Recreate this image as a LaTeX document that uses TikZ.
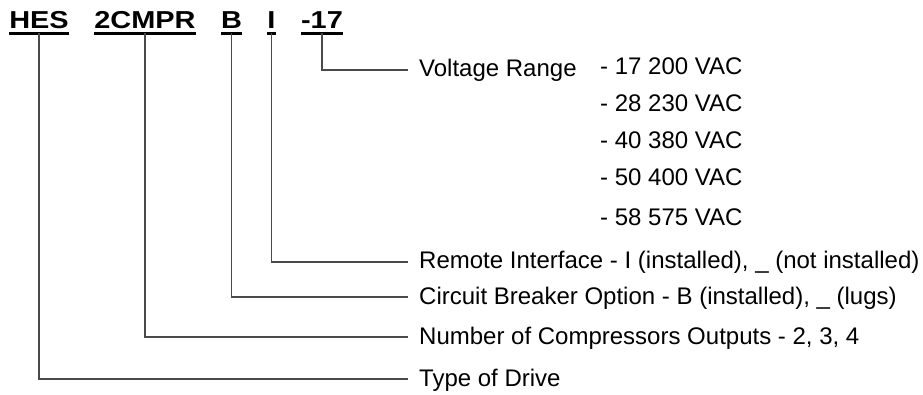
\documentclass[tikz,border=0pt]{standalone}
\usepackage{fontspec}
\setmainfont{Liberation Sans}
\newfontfamily\codefont[FakeStretch=1.18]{Liberation Sans Bold}
\usetikzlibrary{calc}
\definecolor{LeadGray}{HTML}{4A4A4A}

\begin{document}
\begin{tikzpicture}[x=1pt, y=-1pt,
    code/.style={font=\codefont\fontsize{24.5}{28}\selectfont, anchor=base, inner xsep=0pt, inner ysep=4pt, text depth=0pt},
    item/.style={font=\fontsize{24}{28}\selectfont, anchor=west, inner xsep=11pt, inner ysep=0pt, text height=14pt, text depth=0pt},
    volt/.style={font=\fontsize{24}{28}\selectfont, anchor=base west, inner sep=0pt},
    lead/.style={draw=LeadGray, line width=1.7pt},
    uline/.style={line width=2.8pt}]
    \useasboundingbox (0,0) rectangle (923,395);

    % part number
    \node[code] (hes) at (39,29) {HES};
    \node[code] (cmpr) at (145,29) {2CMPR};
    \node[code] (brk) at (231.5,29) {B};
    \node[code] (rmt) at (271.5,29) {I};
    \node[code] (vlt) at (322,29) {-17};
    \foreach \n in {hes,cmpr,brk,rmt,vlt}
        \draw[uline] (\n.south west) -- (\n.south east);

    % what each part means
    \node[item] (range) at (408,70) {Voltage Range};
    \node[item] (remote) at (408,262) {Remote Interface - I (installed), \_ (not installed)};
    \node[item] (breaker) at (408,297) {Circuit Breaker Option - B (installed), \_ (lugs)};
    \node[item] (comp) at (408,337) {Number of Compressors Outputs - 2, 3, 4};
    \node[item] (drive) at (408,379) {Type of Drive};

    % voltage codes
    \node[volt] (v17) at (600,75) {- 17 200 VAC};
    \node[volt] (v28) at (600,112) {- 28 230 VAC};
    \node[volt] (v40) at (600,149) {- 40 380 VAC};
    \node[volt] (v50) at (600,186) {- 50 400 VAC};
    \node[volt] (v58) at (600,226) {- 58 575 VAC};

    \draw[lead] (vlt.south) |- (range.west);
    \draw[lead] (rmt.south) |- (remote.west);
    \draw[lead] (brk.south) |- (breaker.west);
    \draw[lead] (cmpr.south) |- (comp.west);
    \draw[lead] (hes.south) |- (drive.west);
\end{tikzpicture}
\end{document}
